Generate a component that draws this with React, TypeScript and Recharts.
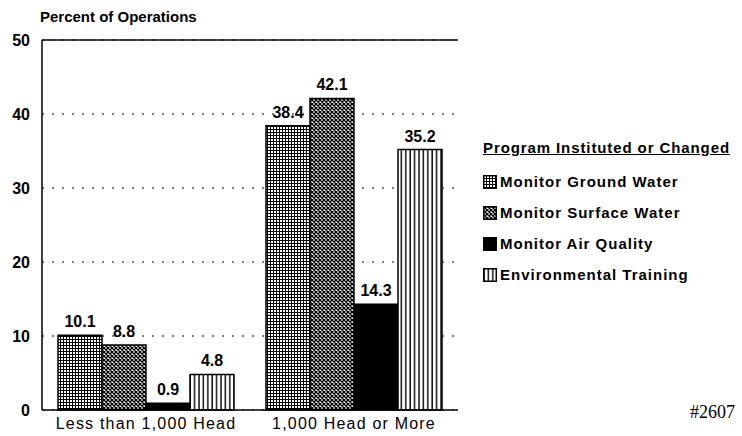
import { BarChart, Bar, XAxis, YAxis, CartesianGrid, LabelList, ReferenceLine } from "recharts";

const categories = ["Less than 1,000 Head", "1,000 Head or More"];
const groundWater = [10.1, 38.4];
const surfaceWater = [8.8, 42.1];
const airQuality = [0.9, 14.3];
const training = [4.8, 35.2];
const yTicks = [0, 10, 20, 30, 40, 50];

const seriesNames = [
  "Monitor Ground Water",
  "Monitor Surface Water",
  "Monitor Air Quality",
  "Environmental Training",
];

const data = categories.map((c, i) => ({
  name: c,
  ground: groundWater[i],
  surface: surfaceWater[i],
  air: airQuality[i],
  training: training[i],
}));

const font = "'Liberation Sans', Arial, sans-serif";

function Patterns({ p }: { p: string }) {
  return (
    <defs>
      <pattern id={p + "grid"} width="3" height="3" patternUnits="userSpaceOnUse">
        <rect width="3" height="3" fill="#fff" />
        <path d="M0 0.5H3M0.5 0V3" stroke="#000" strokeWidth="1" />
      </pattern>
      <pattern id={p + "check"} width="4" height="4" patternUnits="userSpaceOnUse">
        <rect width="4" height="4" fill="#fff" />
        <path d="M0 0L4 4M4 0L0 4" stroke="#000" strokeWidth="1.3" />
      </pattern>
      <pattern id={p + "vert"} width="4.4" height="4" patternUnits="userSpaceOnUse">
        <rect width="4.4" height="4" fill="#fff" />
        <path d="M1 0V4" stroke="#000" strokeWidth="1.4" />
      </pattern>
    </defs>
  );
}

const fills = ["grid", "check", "solid", "vert"];

function Swatch({ kind }: { kind: string }) {
  return (
    <svg width="14" height="14" style={{ display: "block" }}>
      <Patterns p="lg" />
      <rect
        x="0.75"
        y="0.75"
        width="12.5"
        height="12.5"
        fill={kind === "solid" ? "#000" : `url(#lg${kind})`}
        stroke="#000"
        strokeWidth="1.5"
      />
    </svg>
  );
}

const labelStyle = { fontFamily: font, fontWeight: 700, fontSize: 16, fill: "#000" };

export default function App() {
  return (
    <div style={{ position: "absolute", left: 0, top: 0, width: 742, height: 436, background: "#fff", fontFamily: font }}>
      <div style={{ position: "absolute", left: 40, top: 8, fontSize: 15, fontWeight: 700 }}>
        Percent of Operations
      </div>
      <BarChart
        width={742}
        height={436}
        data={data}
        margin={{ top: 40, right: 284, bottom: 0, left: 0 }}
        barCategoryGap={16}
        barGap={0}
      >
        <Patterns p="ch" />
        <CartesianGrid vertical={false} stroke="#000" strokeDasharray="2 8" />
        <XAxis
          dataKey="name"
          height={26}
          axisLine={{ stroke: "#000", strokeWidth: 1.5 }}
          tickLine={false}
          tick={{ fill: "#000", fontSize: 16, fontFamily: font, letterSpacing: 1.2, fontWeight: 500 }}
          tickMargin={2}
        />
        <YAxis
          domain={[0, 50]}
          ticks={yTicks}
          width={42}
          axisLine={{ stroke: "#000", strokeWidth: 1.5 }}
          tickLine={false}
          tickMargin={6}
          tick={{ fill: "#000", fontSize: 16, fontWeight: 700, fontFamily: font }}
        />
        <YAxis
          yAxisId="r"
          orientation="right"
          width={0}
          tick={false}
          axisLine={{ stroke: "#000", strokeWidth: 1.5 }}
          tickLine={false}
        />
        <ReferenceLine y={50} stroke="#000" strokeWidth={1.5} />
        {["ground", "surface", "air", "training"].map((k, i) => (
          <Bar
            key={k}
            dataKey={k}
            name={seriesNames[i]}
            fill={fills[i] === "solid" ? "#000" : `url(#ch${fills[i]})`}
            stroke="#000"
            strokeWidth={1.5}
            isAnimationActive={false}
          >
            <LabelList dataKey={k} position="top" offset={8} style={labelStyle} />
          </Bar>
        ))}
      </BarChart>
      <div style={{ position: "absolute", left: 483, top: 139, fontSize: 15, fontWeight: 700, letterSpacing: 1 }}>
        <div style={{ textDecoration: "underline", marginBottom: 10, letterSpacing: 0.9 }}>
          Program Instituted or Changed
        </div>
        {seriesNames.map((n, i) => (
          <div key={n} style={{ display: "flex", alignItems: "center", height: 31 }}>
            <Swatch kind={fills[i]} />
            <span style={{ marginLeft: 3 }}>{n}</span>
          </div>
        ))}
      </div>
      <div style={{ position: "absolute", left: 690, top: 402, fontFamily: "'Liberation Serif', serif", fontSize: 18 }}>
        #2607
      </div>
    </div>
  );
}
